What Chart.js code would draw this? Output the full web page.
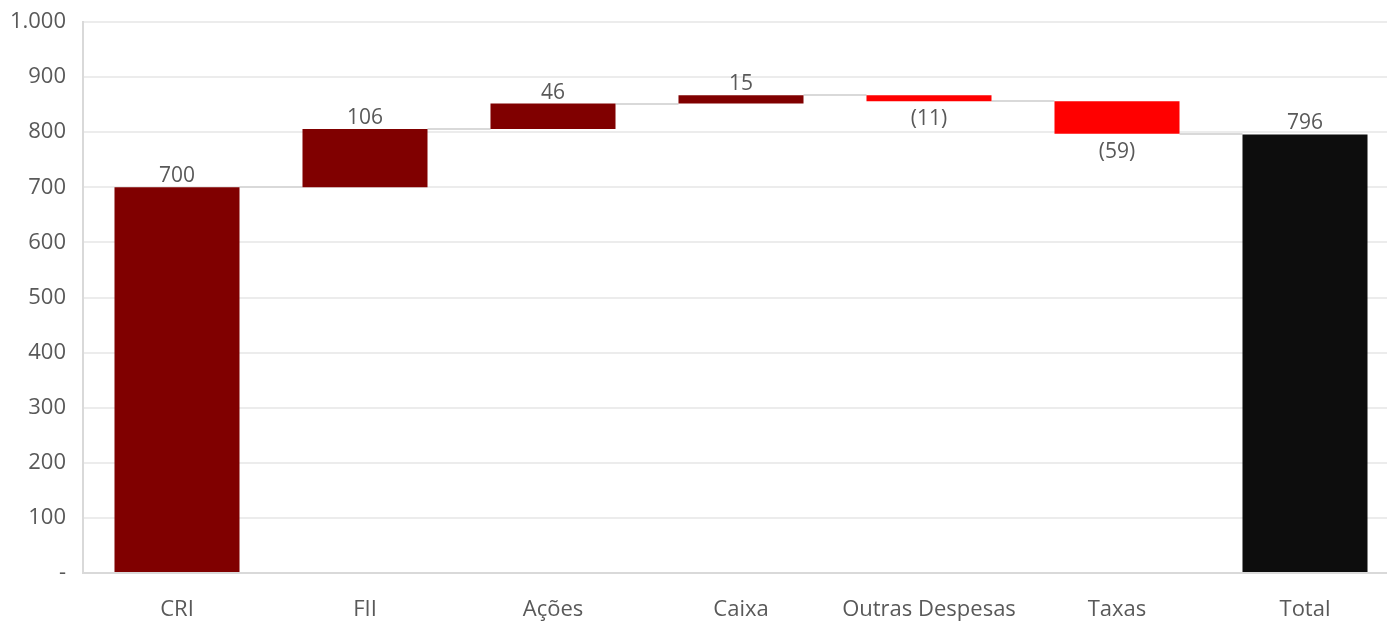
<!DOCTYPE html>
<html>
<head>
<meta charset="utf-8">
<script src="https://cdn.jsdelivr.net/npm/chart.js@4"></script>
<style>
  html, body { margin: 0; padding: 0; background: #ffffff; overflow: hidden; }
  #wrap { width: 1399px; height: 621px; position: relative; }
</style>
</head>
<body>
<div id="wrap"><canvas id="c"></canvas></div>
<script>
// Composição do resultado (waterfall)
const categories = ['CRI', 'FII', 'Ações', 'Caixa', 'Outras Despesas', 'Taxas', 'Total'];
const changes    = [700, 106, 46, 15, -11, -59, null];
const totalValue = 796;
const yTickValues = [0, 100, 200, 300, 400, 500, 600, 700, 800, 900, 1000];

const COLOR_UP = '#800000';
const COLOR_DOWN = '#ff0000';
const COLOR_TOTAL = '#0d0d0d';
const TEXT = '#595959';
const FONT = "'Open Sans', 'Noto Sans', sans-serif";

// Floating bars [start, end] built from the running total
const ranges = [];
const colors = [];
let running = 0;
changes.forEach((v, i) => {
  if (v === null) {
    ranges.push([0, totalValue]);
    colors.push(COLOR_TOTAL);
  } else {
    ranges.push([running, running + v]);
    colors.push(v >= 0 ? COLOR_UP : COLOR_DOWN);
    running += v;
  }
});

function fmtNumber(n) {
  if (n === 0) return '-';
  return Math.round(n).toString().replace(/\B(?=(\d{3})+(?!\d))/g, '.');
}
function labelFor(i) {
  const v = changes[i] === null ? totalValue : changes[i];
  return v < 0 ? '(' + Math.abs(v) + ')' : String(v);
}

// Gray connectors between consecutive bars at the running level
const connectorPlugin = {
  id: 'connectors',
  beforeDatasetsDraw(chart) {
    const meta = chart.getDatasetMeta(0);
    const y = chart.scales.y;
    const ctx = chart.ctx;
    ctx.save();
    ctx.strokeStyle = '#d9d9d9';
    ctx.lineWidth = 2;
    for (let i = 0; i < meta.data.length - 1; i++) {
      const a = meta.data[i], b = meta.data[i + 1];
      const level = ranges[i][1];
      const py = Math.round(y.getPixelForValue(level));
      ctx.beginPath();
      ctx.moveTo(a.x + a.width / 2, py);
      ctx.lineTo(b.x - b.width / 2, py);
      ctx.stroke();
    }
    ctx.restore();
  }
};

// Value labels: above rising bars, below falling ones
const valueLabelPlugin = {
  id: 'valueLabels',
  afterDatasetsDraw(chart) {
    const meta = chart.getDatasetMeta(0);
    const y = chart.scales.y;
    const ctx = chart.ctx;
    ctx.save();
    ctx.font = '21px ' + FONT;
    ctx.fillStyle = TEXT;
    ctx.textAlign = 'center';
    ctx.textBaseline = 'middle';
    meta.data.forEach((el, i) => {
      const [s, e] = ranges[i];
      if (e < s) {
        ctx.fillText(labelFor(i), el.x, y.getPixelForValue(e) + 18);
      } else {
        ctx.fillText(labelFor(i), el.x, y.getPixelForValue(e) - 11);
      }
    });
    ctx.restore();
  }
};

new Chart(document.getElementById('c'), {
  type: 'bar',
  data: {
    labels: categories,
    datasets: [{
      data: ranges,
      backgroundColor: colors,
      borderWidth: 0,
      barPercentage: 0.665,
      categoryPercentage: 1.0
    }]
  },
  options: {
    responsive: true,
    maintainAspectRatio: false,
    animation: false,
    layout: { padding: { top: 22, right: 0, left: 0, bottom: 0 } },
    plugins: {
      legend: { display: false },
      tooltip: { enabled: false }
    },
    scales: {
      x: {
        afterFit(scale) { scale.height = 48; },
        grid: { display: false, drawTicks: false },
        border: { display: true, color: '#d9d9d9', width: 2 },
        ticks: {
          color: TEXT,
          font: { family: FONT, size: 22 },
          padding: 24,
          maxRotation: 0,
          autoSkip: false
        }
      },
      y: {
        min: 0,
        max: 1000,
        afterFit(scale) {
          scale.width = 83;
          scale.paddingTop = 0;
          scale.paddingBottom = 0;
        },
        afterBuildTicks(scale) {
          scale.ticks = yTickValues.map(v => ({ value: v }));
        },
        grid: { color: '#ececec', lineWidth: 2, drawTicks: false },
        border: { display: true, color: '#d9d9d9', width: 2 },
        ticks: {
          color: TEXT,
          font: { family: FONT, size: 22 },
          padding: 17,
          callback: (v) => fmtNumber(v)
        }
      }
    }
  },
  plugins: [connectorPlugin, valueLabelPlugin]
});
</script>
</body>
</html>
